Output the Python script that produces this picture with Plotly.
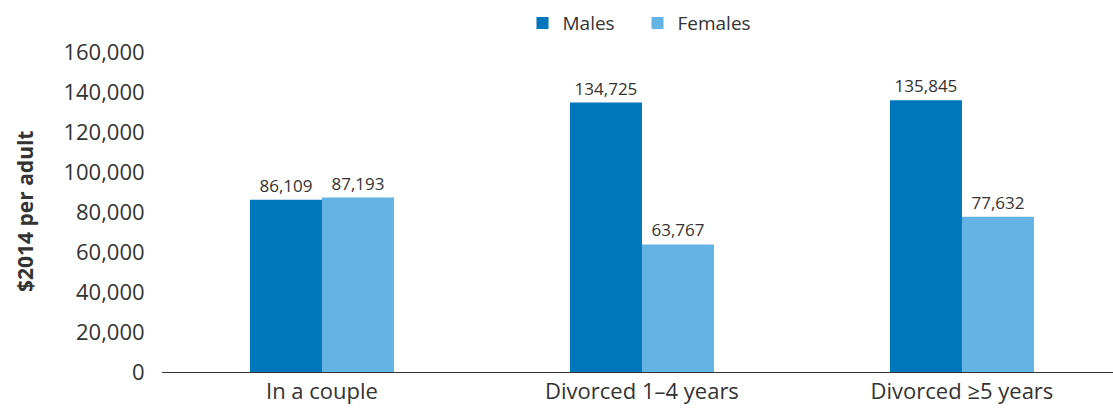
import plotly.graph_objects as go

categories = ["In a couple", "Divorced 1\u20134 years", "Divorced \u22655 years"]
males = [86109, 134725, 135845]
females = [87193, 63767, 77632]

colors = {"males": "#0077BD", "females": "#63B4E4"}
text_color = "#333333"
font_family = "Open Sans, Noto Sans, sans-serif"

fig = go.Figure()

fig.add_trace(go.Bar(
  x=categories,
  y=males,
  name="Males",
  marker=dict(color=colors["males"], line=dict(width=0)),
  text=[f"{v:,}" for v in males],
  textposition="outside",
  textfont=dict(size=17, color=text_color),
  cliponaxis=False,
))

fig.add_trace(go.Bar(
  x=categories,
  y=females,
  name="Females",
  marker=dict(color=colors["females"], line=dict(width=0)),
  text=[f"{v:,}" for v in females],
  textposition="outside",
  textfont=dict(size=17, color=text_color),
  cliponaxis=False,
))

fig.update_layout(
  template="plotly_white",
  font=dict(family=font_family, color=text_color),
  barmode="group",
  bargap=0.55,
  bargroupgap=0,
  width=1113, height=409,
  margin=dict(l=162, r=0, t=52, b=37),
  paper_bgcolor="white",
  plot_bgcolor="white",
  legend=dict(
    orientation="h",
    x=0.5, xanchor="center",
    y=1.09, yanchor="middle",
    font=dict(size=19, color=text_color),
    itemwidth=30,
    entrywidth=70,
    entrywidthmode="pixels",
  ),
)

# y title as annotation so it can sit far left
fig.add_annotation(
  text="<b>$2014 per adult</b>",
  xref="paper", yref="paper",
  x=0, y=0.5,
  xanchor="center", yanchor="middle",
  xshift=-137,
  textangle=-90,
  showarrow=False,
  font=dict(size=21, color=text_color),
)

fig.update_xaxes(
  automargin=False,
  range=[-0.5, 2.472],
  showgrid=False,
  showline=True,
  linecolor="#333333",
  linewidth=1,
  ticks="",
  tickfont=dict(size=22, color=text_color),
)

fig.update_yaxes(
  automargin=False,
  range=[0, 160000],
  dtick=20000,
  tickformat=",",
  showgrid=False,
  zeroline=False,
  showline=False,
  ticks="outside",
  ticklen=12,
  tickcolor="white",
  tickfont=dict(size=22, color=text_color),
)

fig.write_html(
  "out.html",
  config={"displayModeBar": False},
  post_script="document.body.style.margin='0';",
)
